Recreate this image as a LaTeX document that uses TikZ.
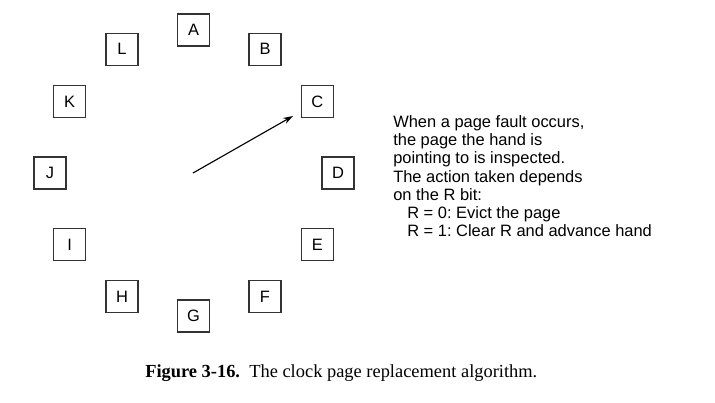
\documentclass[tikz,border=0pt]{standalone}
\usepackage{fontspec}
\setmainfont{Liberation Sans}
\newfontfamily\legendafont{Liberation Serif}
\usetikzlibrary{
	arrows.meta,
	positioning
}
\frenchspacing

\begin{document}
\begin{tikzpicture}[
			x=0.025cm, y=0.025cm,
			font=\fontsize{11.7}{13}\selectfont,
			pagebox/.style={
					draw=black!80,
					line width=0.85pt,
					minimum width=0.8cm,
					minimum height=0.8cm,
					inner sep=0pt,
					fill=white
				},
			hand/.style={
					-{Stealth[length=7pt, width=4.6pt]},
					line width=0.8pt
				}
		]
		\useasboundingbox (-193.5,-229) rectangle (521.5,173);

		% paginas em volta do relogio
		\node[pagebox] (A) at (90:143) {A};
		\node[pagebox] (B) at (60:143) {B};
		\node[pagebox] (C) at (30:143) {C};
		\node[pagebox] (D) at (0:144.5) {D};
		\node[pagebox] (E) at (-30:143) {E};
		\node[pagebox] (F) at (-60:143) {F};
		\node[pagebox] (G) at (-90:143) {G};
		\node[pagebox] (H) at (-120:143) {H};
		\node[pagebox] (I) at (-150:143) {I};
		\node[pagebox] (J) at (180:143.5) {J};
		\node[pagebox] (K) at (150:143) {K};
		\node[pagebox] (L) at (120:143) {L};

		% ponteiro
		\coordinate (eixo) at (-0.5,0);
		\coordinate (ponta) at (99.5,57);
		\draw[hand] (eixo) -- (ponta);

		\node[anchor=north west, inner sep=0pt, align=left] (regra) at (199.5,58)
		{When a page fault occurs,\\
			the page the hand is\\
			pointing to is inspected.\\
			The action taken depends\\
			on the R bit:\\
			\hspace*{0.35cm}R = 0: Evict the page\\
			\hspace*{0.35cm}R = 1: Clear R and advance hand};

		\node[anchor=base west, inner sep=0pt, font=\legendafont\fontsize{13.1}{15}\selectfont] (legenda) at (-48.5,-204)
		{\textbf{Figure 3-16.}\ \ The clock page replacement algorithm.};
	\end{tikzpicture}
\end{document}
